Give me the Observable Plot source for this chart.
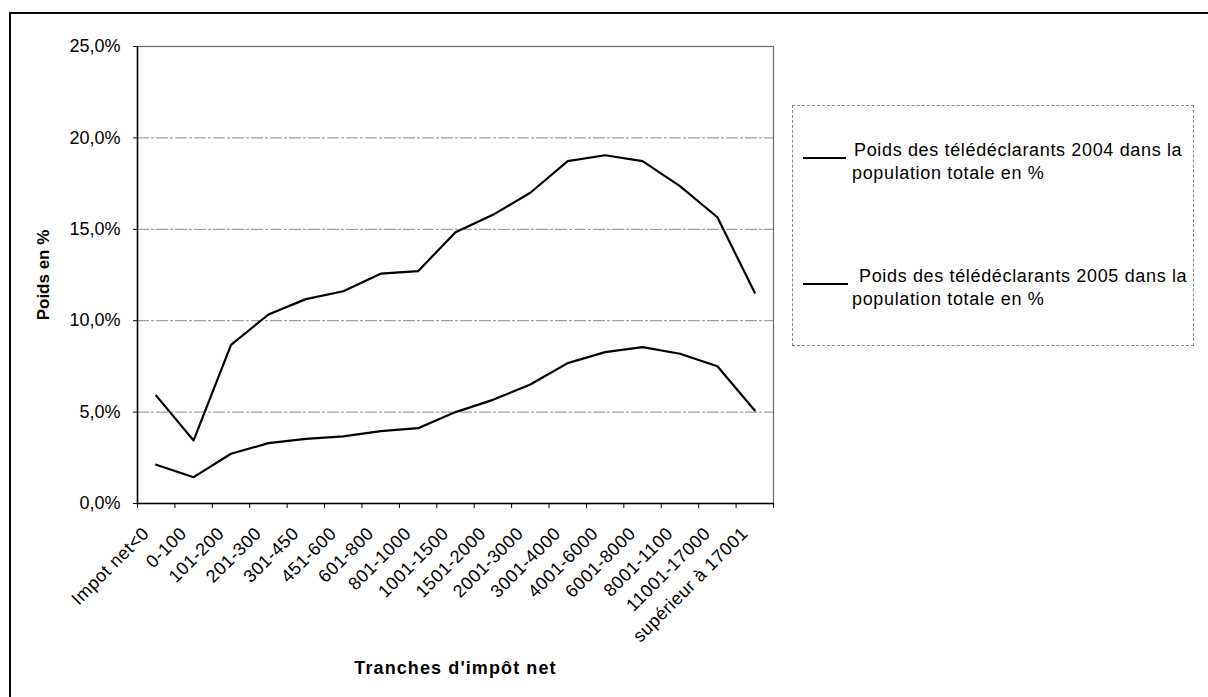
<!DOCTYPE html>
<html>
<head>
<meta charset="utf-8">
<script src="https://cdn.jsdelivr.net/npm/d3@7"></script>
<script src="https://cdn.jsdelivr.net/npm/@observablehq/plot@0.6"></script>
<style>
  html, body { margin: 0; padding: 0; background: #fff; }
  #wrap { position: relative; width: 1208px; height: 697px; overflow: hidden; font-family: "Liberation Sans", Arial, sans-serif; }
  #border { position: absolute; left: 9px; top: 12px; width: 1300px; height: 800px; border-left: 2px solid #000; border-top: 2px solid #000; box-sizing: border-box; }
  #legend { position: absolute; left: 792px; top: 105px; width: 402px; height: 241px; border: 1px dashed #888; box-sizing: border-box; }
  .lg-line { position: absolute; height: 0; border-top: 2px solid #000; }
  .lg-text { position: absolute; font-size: 18px; color: #000; white-space: nowrap; line-height: 18px; letter-spacing: 0.65px; }
  svg { position: absolute; left: 0; top: 0; }
  .xlab text { letter-spacing: 0.5px; }
  .xtitle text { letter-spacing: 1.1px; }
</style>
</head>
<body>
<div id="wrap">
  <div id="chart"></div>
  <div id="border"></div>
  <div id="legend"></div>
</div>
<script>
const categories = ["Impot net<0", "0-100", "101-200", "201-300", "301-450", "451-600", "601-800", "801-1000", "1001-1500", "1501-2000", "2001-3000", "3001-4000", "4001-6000", "6001-8000", "8001-1100", "11001-17000", "supérieur à 17001"];
const series2004 = [5.9, 3.45, 8.68, 10.34, 11.18, 11.61, 12.57, 12.71, 14.84, 15.79, 17.0, 18.73, 19.05, 18.73, 17.36, 15.66, 11.53];
const series2005 = [2.12, 1.44, 2.72, 3.30, 3.54, 3.67, 3.96, 4.12, 5.0, 5.67, 6.51, 7.68, 8.28, 8.55, 8.19, 7.51, 5.09];
const seriesNames = ["Poids des télédéclarants 2004 dans la population totale en %", "Poids des télédéclarants 2005 dans la population totale en %"];
const yTicks = [0, 5, 10, 15, 20, 25];
const xTitle = "Tranches d'impôt net";
const yTitle = "Poids en %";

const idx = d3.range(categories.length);
const bounds = d3.range(categories.length + 1).map(i => i - 0.5);
const data2004 = idx.map(i => ({i, v: series2004[i]}));
const data2005 = idx.map(i => ({i, v: series2005[i]}));
const fmt = d => d.toFixed(1).replace(".", ",") + "%";

const chart = Plot.plot({
  width: 1208,
  height: 697,
  marginLeft: 137,
  marginRight: 435,
  marginTop: 46,
  marginBottom: 194,
  style: { fontFamily: "Liberation Sans, Arial, sans-serif", color: "#000", background: "transparent" },
  x: { type: "linear", domain: [-0.5, categories.length - 0.5] },
  y: { domain: [0, 25] },
  marks: [
    Plot.gridY(yTicks.filter(t => t > 0 && t < 25), { stroke: "#8a8a8a", strokeOpacity: 1, strokeWidth: 1, strokeDasharray: "12,2,3,2" }),
    Plot.frame({ stroke: "#6a6a6a", strokeWidth: 1.2 }),
    Plot.axisY(yTicks, { tickFormat: fmt, tickSize: 4, tickPadding: 13, fontSize: 18, label: null, stroke: "#000" }),
    Plot.axisX(bounds, { tickSize: 5, tickFormat: () => "", label: null, stroke: "#000" }),
    Plot.axisX(idx, { tickSize: 0, tickRotate: -45, tickPadding: 8, tickFormat: i => categories[i], fontSize: 18, label: null, dx: -10, dy: 19, className: "xlab" }),
    Plot.ruleX([-0.5], { stroke: "#000", strokeWidth: 1.5 }),
    Plot.ruleY([0], { stroke: "#000", strokeWidth: 1.5 }),
    Plot.line(data2004, { x: "i", y: "v", stroke: "#000", strokeWidth: 2.2 }),
    Plot.line(data2005, { x: "i", y: "v", stroke: "#000", strokeWidth: 2.2 }),
    Plot.text([yTitle], { frameAnchor: "left", textAnchor: "middle", dx: -94, rotate: -90, fontWeight: "bold", fontSize: 17, fill: "#000" }),
    Plot.text([xTitle], { frameAnchor: "bottom", dy: 170, fontWeight: "bold", fontSize: 18, fill: "#000", className: "xtitle" })
  ]
});
document.getElementById("chart").appendChild(chart);

// legend
const legend = document.getElementById("legend");
function split(name) {
  const k = name.indexOf(" dans la") + " dans la".length;
  return [name.slice(0, k), name.slice(k + 1)];
}
const entries = [
  { lineY: 52, lineX: 10, lineW: 43, t1x: 61, t1y: 44, t2x: 59, t2y: 67 },
  { lineY: 178, lineX: 10, lineW: 45, t1x: 66, t1y: 170, t2x: 59, t2y: 193 }
];
seriesNames.forEach((name, k) => {
  const e = entries[k];
  const [a, b] = split(name);
  const ln = document.createElement("div");
  ln.className = "lg-line";
  ln.style.left = e.lineX + "px"; ln.style.top = (e.lineY - 1) + "px"; ln.style.width = e.lineW + "px";
  legend.appendChild(ln);
  const t1 = document.createElement("div");
  t1.className = "lg-text"; t1.textContent = a;
  t1.style.left = e.t1x + "px"; t1.style.top = (e.t1y - 9) + "px";
  legend.appendChild(t1);
  const t2 = document.createElement("div");
  t2.className = "lg-text"; t2.textContent = b;
  t2.style.left = e.t2x + "px"; t2.style.top = (e.t2y - 9) + "px";
  legend.appendChild(t2);
});
</script>
</body>
</html>
